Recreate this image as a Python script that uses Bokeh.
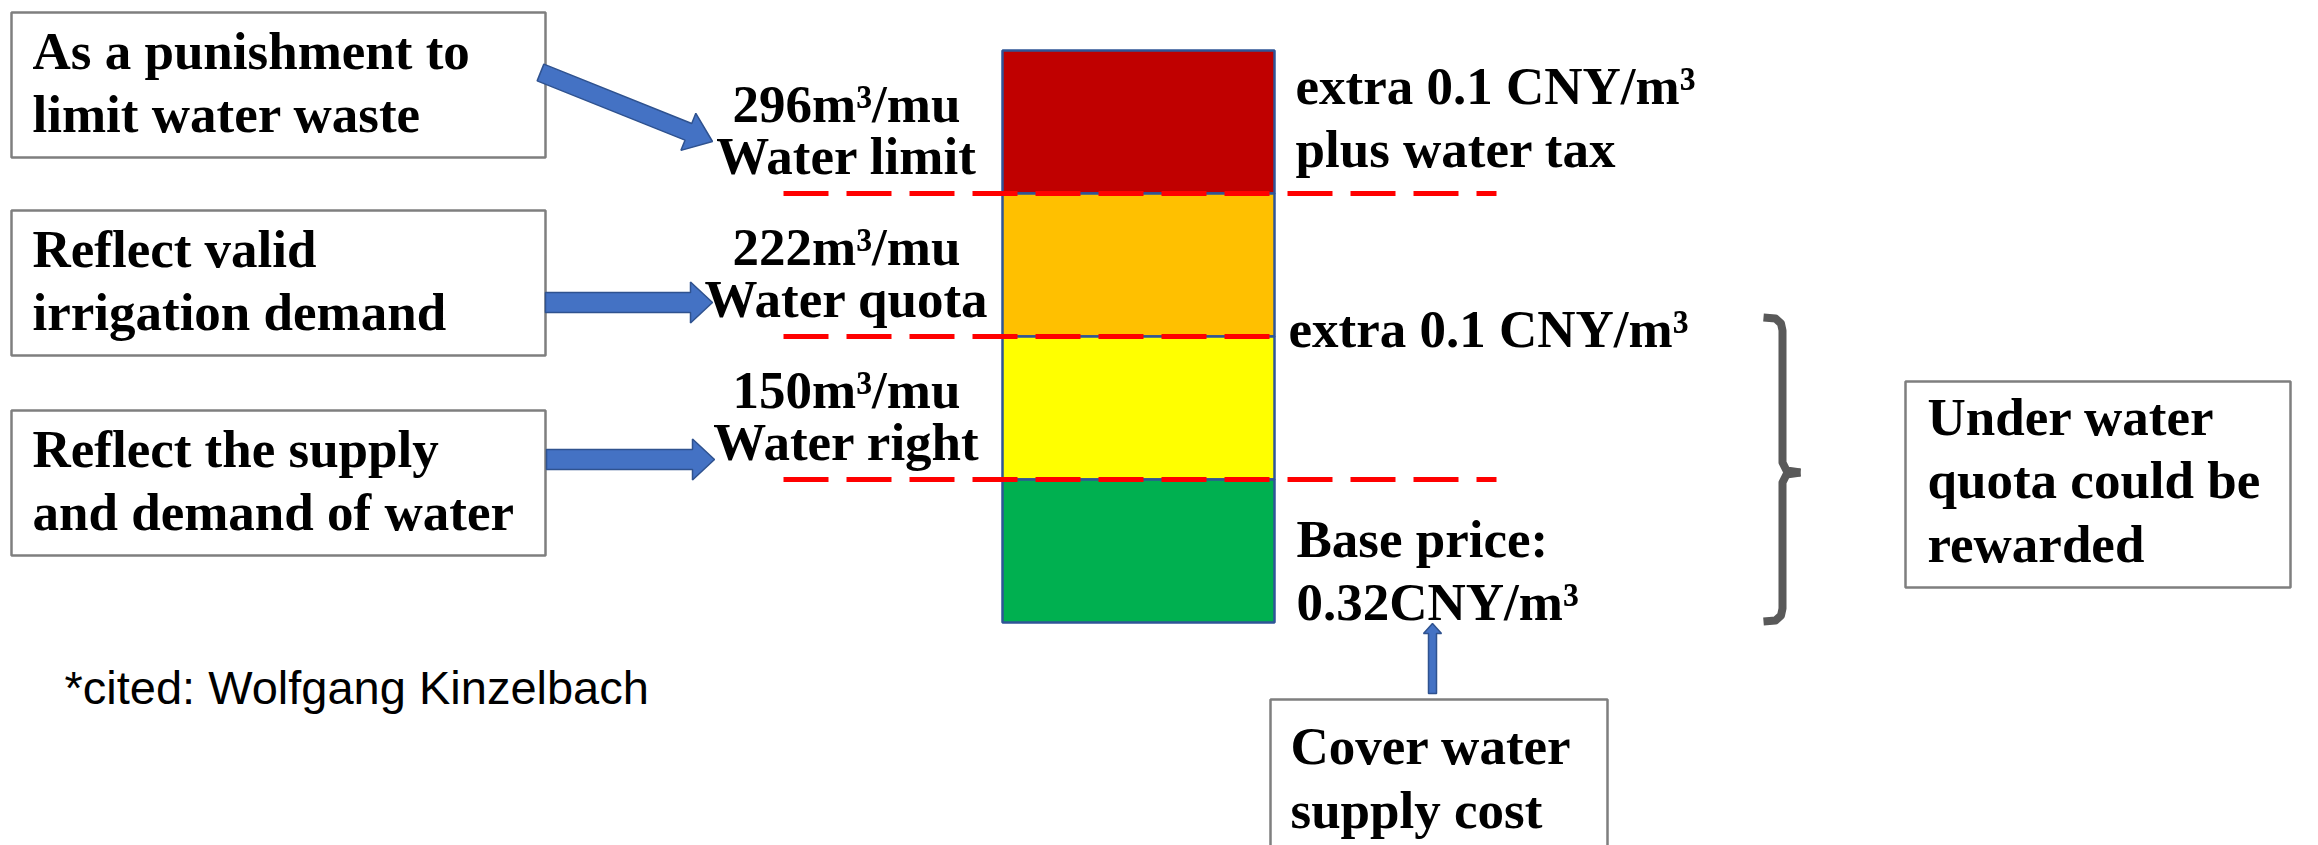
import numpy as np
from bokeh.plotting import figure
from bokeh.models import Range1d, ColumnDataSource
from bokeh.core.properties import value
from bokeh.embed import file_html
from bokeh.resources import INLINE

# ---------------- data ----------------
tier_names = ["Water limit", "Water quota", "Water right"]
tier_volumes = [296, 222, 150]          # m3 per mu
tier_purposes = [
    ["As a punishment to", "limit water waste"],
    ["Reflect valid", "irrigation demand"],
    ["Reflect the supply", "and demand of water"],
]
band_colors = ["#C00000", "#FFC000", "#FFFF00", "#00B050"]
price_notes = [
    ["extra 0.1 CNY/m\u00b3", "plus water tax"],
    ["extra 0.1 CNY/m\u00b3"],
    ["Base price:", "0.32CNY/m\u00b3"],
]
base_note = ["Cover water", "supply cost"]
reward_note = ["Under water", "quota could be", "rewarded"]
citation = "*cited: Wolfgang Kinzelbach"

# ---------------- layout (screen px, y downward) ----------------
W, H = 2318, 845
SERIF = value("Liberation Serif")
SANS = value("Liberation Sans")
FS = 53

bar_x0, bar_x1 = 1002, 1274
band_top, band_h = 50, 143
band_edges = [band_top + i * band_h for i in range(len(band_colors) + 1)]
dash_right = [1496, bar_x1, 1496]   # middle threshold line stops at the bar

p = figure(width=W, height=H, x_range=Range1d(0, W), y_range=Range1d(H, 0),
           x_axis_type=None, y_axis_type=None, toolbar_location=None,
           output_backend="svg", min_border=0, outline_line_color=None,
           background_fill_color="white", border_fill_color="white")
p.grid.visible = False

def text(x, y, lines, dy=63, font=SERIF, size=FS, style="bold", align="left", shift=None):
    if shift is None:
        shift = 0.32 * size
    xs = [x] * len(lines)
    ys = [y - shift + i * dy for i in range(len(lines))]
    p.text(x=xs, y=ys, text=lines, text_font=font, text_font_size=f"{size}px",
           text_font_style=style, text_align=align, text_baseline="alphabetic",
           text_color="black")

def arrow(x0, y0, x1, y1, shaft, head_w, head_l, fill="#4472C4", line="#2F528F"):
    t = np.array([x0, y0], float); tip = np.array([x1, y1], float)
    d = tip - t; u = d / np.hypot(*d); n = np.array([-u[1], u[0]])
    b = tip - u * head_l
    pts = [t + n * shaft / 2, b + n * shaft / 2, b + n * head_w / 2, tip,
           b - n * head_w / 2, b - n * shaft / 2, t - n * shaft / 2]
    p.patch([q[0] for q in pts], [q[1] for q in pts], fill_color=fill,
            line_color=line, line_width=1.5)

# stacked price bands
bands = ColumnDataSource(dict(
    left=[bar_x0] * len(band_colors), right=[bar_x1] * len(band_colors),
    top=band_edges[:-1], bottom=band_edges[1:], color=band_colors))
p.quad(left="left", right="right", top="top", bottom="bottom", fill_color="color",
       line_color="#2F5597", line_width=2.5, source=bands)

# threshold dashed lines + labels
for i, (name, vol) in enumerate(zip(tier_names, tier_volumes)):
    yb = band_edges[i + 1]
    p.line([783, dash_right[i]], [yb, yb], line_color="#FF0000", line_width=5,
           line_dash="45 18", line_cap="butt")
    text(846, yb - 73, [f"{vol}m\u00b3/mu"], align="center")
    text(846, yb - 21, [name], align="center")

# purpose boxes + arrows
box_tops = [12, 210, 410]
for i, lines in enumerate(tier_purposes):
    t0 = box_tops[i]
    p.quad(left=11, right=545, top=t0, bottom=t0 + 145, fill_color="white",
           line_color="#7F7F7F", line_width=2.5)
    text(32, t0 + 55, lines)
arrow(540, 72, 712, 141, 18, 40, 26)
arrow(545, 302, 712, 302, 20, 41, 22)
arrow(546, 459, 714, 459, 20, 41, 22)

# price notes on the right of bar
text(1295, 102, price_notes[0])
text(1288, 345, price_notes[1])
text(1296, 555, price_notes[2])

# base price note box + small arrow
p.quad(left=1270, right=1607, top=699, bottom=880, fill_color="white",
       line_color="#7F7F7F", line_width=2.5)
text(1290, 762, base_note, dy=64)
arrow(1432, 693, 1432, 623, 8, 18, 10)

# bracket
bx, by0, by1, bm, tipx, hookx = 1782, 317, 621, 472, 1800, 1763
p.line([hookx, 1775, 1780.5, bx, bx, bx + 4, tipx],
       [by0, by0 + 1, by0 + 6, by0 + 13, bm - 10, bm - 2, bm],
       line_color="#595959", line_width=8, line_join="round")
p.line([tipx, bx + 4, bx, bx, 1780.5, 1775, hookx],
       [bm, bm + 2, bm + 10, by1 - 13, by1 - 6, by1 - 1, by1],
       line_color="#595959", line_width=8, line_join="round")

# reward box
p.quad(left=1905, right=2290, top=381, bottom=587, fill_color="white",
       line_color="#7F7F7F", line_width=2.5)
text(1927, 433, reward_note, dy=63.5)

# citation
text(64, 698, [citation], font=SANS, size=47, style="normal", shift=11)

open("out.html", "w").write(file_html(p, INLINE))
